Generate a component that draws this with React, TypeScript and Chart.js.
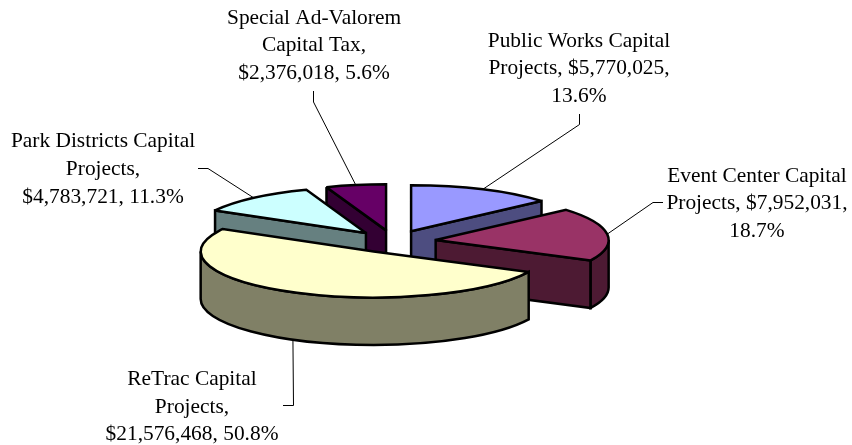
import React, { useEffect, useRef } from "react";
import { Chart, registerables } from "chart.js";

Chart.register(...registerables);

const categories = [
  "Public Works Capital Projects",
  "Event Center Capital Projects",
  "ReTrac Capital Projects",
  "Park Districts Capital Projects",
  "Special Ad-Valorem Capital Tax",
];
const amounts = [5770025, 7952031, 21576468, 4783721, 2376018];
const topColors = ["#9999FF", "#993366", "#FFFFCC", "#CCFFFF", "#660066"];
const wallColors = ["#4D4D80", "#4D1A33", "#808066", "#668080", "#330033"];
const labelLines = [
  ["Public Works Capital", "Projects, $5,770,025,", "13.6%"],
  ["Event Center Capital", "Projects, $7,952,031,", "18.7%"],
  ["ReTrac Capital", "Projects,", "$21,576,468, 50.8%"],
  ["Park Districts Capital", "Projects,", "$4,783,721, 11.3%"],
  ["Special Ad-Valorem", "Capital Tax,", "$2,376,018, 5.6%"],
];
// label centre x, first baseline y
const labelPos = [
  [579, 46.5],
  [757, 181.5],
  [192, 385],
  [103, 147.3],
  [314, 23.5],
];
// leader path from the slice rim outward
const leaderPaths = [
  [[579.5, 124.5], [579.5, 114]],
  [[653, 202.5], [663, 202.5]],
  [[293.5, 405.5], [283, 405.5]],
  [[208, 168.5], [198, 168.5]],
  [[313.5, 102], [313.5, 91]],
];

const RADIUS = 173;
const EXPLODE = 42.5;
const FLATTEN = 46 / 173;
const DEPTH = 47.5;
const LINE_H = 27.7;
const EPS = 1e-9;

const pie3d = {
  id: "pie3d",
  beforeDatasetsDraw(chart: any) {
    const ctx: CanvasRenderingContext2D = chart.ctx;
    const meta = chart.getDatasetMeta(0);
    const parts = meta.data.map((arc: any, i: number) => {
      const { x, y, startAngle, endAngle, outerRadius } = arc.getProps([
        "x",
        "y",
        "startAngle",
        "endAngle",
        "outerRadius",
      ]);
      const mid = (startAngle + endAngle) / 2;
      const ax = x + Math.cos(mid) * EXPLODE;
      const ay = y + Math.sin(mid) * EXPLODE * FLATTEN;
      return { i, ax, ay, a: startAngle, b: endAngle, r: outerRadius, mid };
    });
    const px = (p: any, t: number) => p.ax + p.r * Math.cos(t);
    const py = (p: any, t: number) => p.ay + p.r * FLATTEN * Math.sin(t);

    ctx.save();
    ctx.lineJoin = "miter";
    ctx.miterLimit = 2;

    // leader lines
    ctx.strokeStyle = "#000";
    ctx.lineWidth = 1;
    parts.forEach((p: any) => {
      const wraps = Math.sin(p.mid) > 0.5;
      ctx.beginPath();
      ctx.moveTo(px(p, p.mid), py(p, p.mid) + (wraps ? DEPTH : 0));
      leaderPaths[p.i].forEach(([lx, ly]) => ctx.lineTo(lx, ly));
      ctx.stroke();
    });

    ctx.lineWidth = 2.5;
    ctx.strokeStyle = "#000";
    const quad = (p: any, t: number) => {
      ctx.beginPath();
      ctx.moveTo(p.ax, p.ay);
      ctx.lineTo(px(p, t), py(p, t));
      ctx.lineTo(px(p, t), py(p, t) + DEPTH);
      ctx.lineTo(p.ax, p.ay + DEPTH);
      ctx.closePath();
      ctx.fillStyle = wallColors[p.i];
      ctx.fill();
      ctx.stroke();
    };

    [...parts]
      .sort((m: any, n: any) => m.ay - n.ay)
      .forEach((p: any) => {
        if (Math.cos(p.a) < -EPS) quad(p, p.a);
        if (Math.cos(p.b) > EPS) quad(p, p.b);
        const t0 = Math.max(p.a, 0);
        const t1 = Math.min(p.b, Math.PI);
        if (t1 > t0) {
          ctx.beginPath();
          ctx.ellipse(p.ax, p.ay, p.r, p.r * FLATTEN, 0, t0, t1);
          ctx.ellipse(p.ax, p.ay + DEPTH, p.r, p.r * FLATTEN, 0, t1, t0, true);
          ctx.closePath();
          ctx.fillStyle = wallColors[p.i];
          ctx.fill();
          ctx.stroke();
        }
        ctx.beginPath();
        ctx.moveTo(p.ax, p.ay);
        ctx.ellipse(p.ax, p.ay, p.r, p.r * FLATTEN, 0, p.a, p.b);
        ctx.closePath();
        ctx.fillStyle = topColors[p.i];
        ctx.fill();
        ctx.stroke();
      });

    // labels
    ctx.fillStyle = "#000";
    ctx.font = '21.4px "Liberation Serif"';
    ctx.textAlign = "center";
    ctx.textBaseline = "alphabetic";
    labelLines.forEach((lines, i) => {
      lines.forEach((s, j) => {
        ctx.fillText(s, labelPos[i][0], labelPos[i][1] + j * LINE_H);
      });
    });
    ctx.restore();
    return false;
  },
};

export default function App() {
  const ref = useRef<HTMLCanvasElement>(null);
  useEffect(() => {
    const chart = new Chart(ref.current as HTMLCanvasElement, {
      type: "pie",
      data: {
        labels: categories,
        datasets: [{ data: amounts, backgroundColor: topColors, borderColor: "#000", borderWidth: 2 }],
      },
      options: {
        animation: false,
        responsive: false,
        radius: RADIUS,
        layout: { padding: { right: 65, top: 38 } },
        plugins: { legend: { display: false }, tooltip: { enabled: false }, title: { display: false } },
      } as any,
      plugins: [pie3d as any],
    });
    return () => chart.destroy();
  }, []);
  return (
    <div style={{ position: "absolute", left: 0, top: 0, width: 852, height: 445, background: "#fff" }}>
      <canvas ref={ref} width={852} height={445} style={{ display: "block" }} />
    </div>
  );
}
